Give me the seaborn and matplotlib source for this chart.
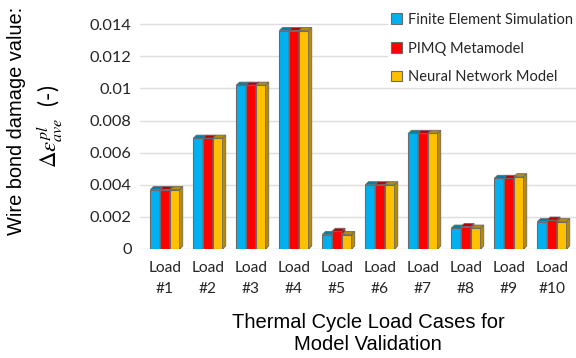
import matplotlib
matplotlib.use("Agg")
import matplotlib.pyplot as plt
import matplotlib.colors as mcolors
from matplotlib.patches import Polygon, Patch
import seaborn as sns
import pandas as pd

# ---- data ----
loads = ["Load\n#1", "Load\n#2", "Load\n#3", "Load\n#4", "Load\n#5",
         "Load\n#6", "Load\n#7", "Load\n#8", "Load\n#9", "Load\n#10"]
models = ["Finite Element Simulation", "PIMQ Metamodel", "Neural Network Model"]
fe_values = [0.0037, 0.0069, 0.0102, 0.0136, 0.0009, 0.0040, 0.0072, 0.0013, 0.0044, 0.0017]
pimq_values = [0.0037, 0.0069, 0.0102, 0.0136, 0.0011, 0.0040, 0.0072, 0.0014, 0.0044, 0.0018]
nn_values = [0.0037, 0.0069, 0.0102, 0.0136, 0.0009, 0.0040, 0.0072, 0.0013, 0.0045, 0.0017]
y_ticks = [0, 0.002, 0.004, 0.006, 0.008, 0.01, 0.012, 0.014]
y_tick_labels = ["0", "0.002", "0.004", "0.006", "0.008", "0.01", "0.012", "0.014"]
colors = ["#00B0F0", "#FF0000", "#FFC000"]

df = pd.DataFrame({
    "load": loads * 3,
    "model": [models[0]] * 10 + [models[1]] * 10 + [models[2]] * 10,
    "value": fe_values + pimq_values + nn_values,
})

sns.set_style("white")
plt.rcParams["mathtext.fontset"] = "stix"

fig = plt.figure(figsize=(5.76, 3.58), dpi=100)
ax = fig.add_axes([0.243, 0.3045, 0.757, 0.646])

sns.barplot(data=df, x="load", y="value", hue="model", hue_order=models,
            palette=colors, saturation=1, width=0.68, gap=0, edgecolor="#6b6b6b",
            linewidth=0.8, ax=ax, legend=False, errorbar=None)

ax.set_xlim(-0.58, 9.56)
ax.set_ylim(0, 0.0144)

# pseudo-3D faces derived from each bar's geometry
dx = 0.075
dy = 0.00019


def darker(c, f):
    r, g, b = mcolors.to_rgb(c)
    return (r * f, g * f, b * f)


for j, cont in enumerate(ax.containers):
    for bar in cont:
        x = bar.get_x()
        w = bar.get_width()
        h = bar.get_height()
        bar.set_zorder(3 + j)
        top = Polygon([(x, h), (x + w, h), (x + w + dx, h + dy), (x + dx, h + dy)],
                      closed=True, facecolor=darker(colors[j], 0.72),
                      edgecolor="#6b6b6b", linewidth=0.6, zorder=3 + j)
        side = Polygon([(x + w, 0), (x + w + dx, dy), (x + w + dx, h + dy), (x + w, h)],
                       closed=True, facecolor=darker(colors[j], 0.72),
                       edgecolor="#6b6b6b", linewidth=0.6, zorder=3 + j)
        ax.add_patch(side)
        ax.add_patch(top)

ax.set_yticks(y_ticks)
ax.set_yticklabels(y_tick_labels)
ax.yaxis.grid(True, color="#DEDEDE", linewidth=1.0, zorder=0)
ax.set_axisbelow(True)
for s in ax.spines.values():
    s.set_visible(False)
ax.tick_params(axis="both", length=0)
ax.tick_params(axis="y", pad=6)
ax.tick_params(axis="x", pad=9)
for lab in ax.get_yticklabels():
    lab.set_family("Lato")
    lab.set_fontsize(11.8)
    lab.set_color("#262626")
for lab in ax.get_xticklabels():
    lab.set_family("Lato")
    lab.set_fontsize(11.2)
    lab.set_color("#262626")
    lab.set_linespacing(1.6)
ax.set_xlabel("")
ax.set_ylabel("")

handles = [Patch(facecolor=c, edgecolor="#6b6b6b", linewidth=0.8) for c in colors]
leg = fig.legend(handles, models, loc="upper left",
                 bbox_to_anchor=(388 / 576, 1 - 10 / 358),
                 frameon=True, framealpha=1, facecolor="white", edgecolor="none",
                 prop={"family": "Lato", "size": 10.5},
                 handlelength=0.75, handleheight=0.75, handletextpad=0.4,
                 labelspacing=1.0, borderpad=0.2, borderaxespad=0)
for t in leg.get_texts():
    t.set_color("#262626")

fig.text(368 / 576, 1 - 334 / 358, "Thermal Cycle Load Cases for\nModel Validation",
         ha="center", va="center", fontsize=14.5, family="Liberation Sans",
         linespacing=1.2, color="black")
fig.text(17 / 576, 1 - 121 / 358, "Wire bond damage value:", rotation=90,
         ha="center", va="center", fontsize=14.4, family="Liberation Sans", color="black")
fig.text(50 / 576, 1 - 126 / 358, r"$\Delta\varepsilon^{pl}_{ave}$  (-)", rotation=90,
         ha="center", va="center", fontsize=16.5, family="Lato", color="black")

fig.savefig("out.png", dpi=100)
